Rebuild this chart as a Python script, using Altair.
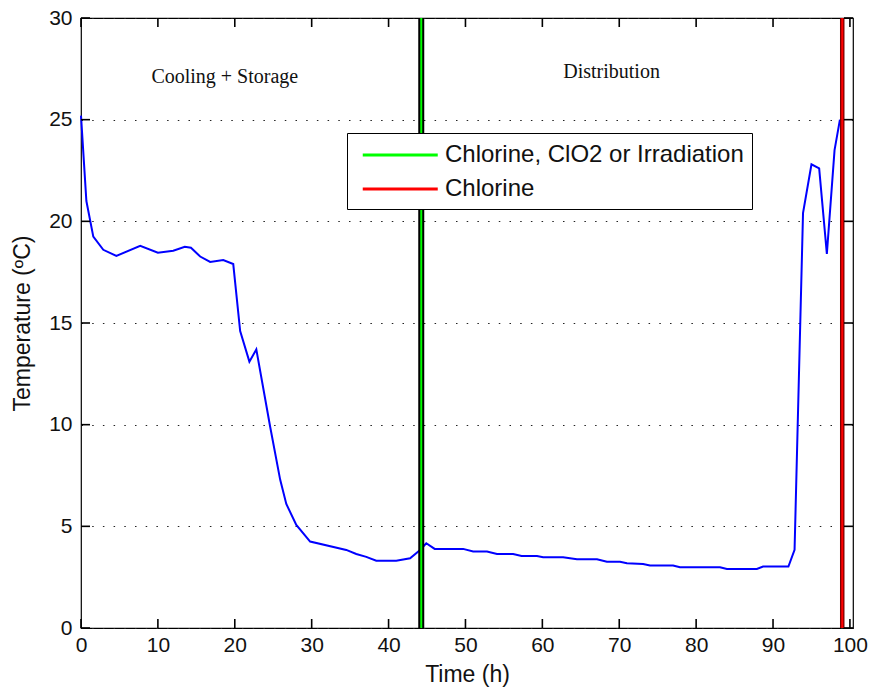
import altair as alt
import pandas as pd

# Temperature curve
time_h = [0, 0.7, 1.6, 2.9, 4.6, 7.7, 10.0, 12.0, 13.5, 14.3, 15.5, 16.8, 18.5, 19.8,
          20.7, 21.9, 22.8, 24.6, 25.9, 26.7, 28.0, 29.8, 34.5, 35.8, 37.1, 38.4, 41.0,
          42.8, 44.1, 44.9, 46.0, 49.7, 51.0, 52.8, 54.1, 56.2, 57.3, 59.3, 60.1, 62.7,
          64.5, 67.1, 68.4, 70.1, 71.0, 73.1, 74.0, 77.0, 77.9, 83.1, 84.0, 87.9, 88.7,
          92.0, 92.8, 93.9, 95.0, 96.0, 97.0, 98.0, 98.7]
temp_c = [25.2, 21.0, 19.25, 18.6, 18.3, 18.8, 18.46, 18.55, 18.75, 18.7, 18.27, 18.0,
          18.1, 17.9, 14.6, 13.1, 13.7, 9.9, 7.3, 6.1, 5.07, 4.25, 3.84, 3.64, 3.5, 3.31,
          3.31, 3.43, 3.84, 4.17, 3.89, 3.89, 3.76, 3.76, 3.64, 3.64, 3.54, 3.54, 3.48,
          3.48, 3.38, 3.38, 3.26, 3.26, 3.18, 3.15, 3.07, 3.07, 2.99, 2.99, 2.90, 2.90,
          3.02, 3.02, 3.84, 20.4, 22.8, 22.6, 18.4, 23.5, 25.0]

# Treatment markers
treat_names = ["Chlorine, ClO2 or Irradiation", "Chlorine"]
treat_times = [44.25, 99.0]
treat_colors = ["#00ff00", "#ff0000"]

# Annotations
note_texts = ["Cooling + Storage", "Distribution"]
note_t = [18.7, 69.0]
note_T = [27.1, 27.35]

x_ticks = [0, 10, 20, 30, 40, 50, 60, 70, 80, 90, 100]
y_ticks = [0, 5, 10, 15, 20, 25, 30]

W, H = 772, 610

curve = pd.DataFrame({"t": time_h, "T": temp_c})
treat = pd.DataFrame({"name": treat_names, "t": treat_times})
notes = pd.DataFrame({"text": note_texts, "t": note_t, "T": note_T})
xt = pd.DataFrame({"tx": x_ticks})
yt = pd.DataFrame({"ty": y_ticks})

xscale = alt.Scale(domain=[0, 100.4], nice=False, zero=False)
yscale = alt.Scale(domain=[0, 30], nice=False)

FONT = "Liberation Sans"

xaxis = alt.Axis(values=x_ticks, title="Time (h)", grid=False, ticks=False, tickSize=0,
                 domain=False, labelFont=FONT, labelFontSize=21, labelColor="#111",
                 labelPadding=6, titleFont=FONT, titleFontSize=23, titleFontWeight="normal",
                 titleColor="#111", titlePadding=8, labelFlush=False)
yaxis = alt.Axis(values=y_ticks, title="Temperature (ºC)", grid=True, gridColor="#222",
                 gridDash=[1.5, 9.2], gridWidth=1.2, ticks=False, tickSize=0, domain=False,
                 labelFont=FONT, labelFontSize=21, labelColor="#111", labelPadding=9,
                 titleFont=FONT, titleFontSize=23, titleFontWeight="normal",
                 titleColor="#111", titlePadding=14, labelFlush=False)

line = alt.Chart(curve).mark_line(color="#0000ff", strokeWidth=2).encode(
    x=alt.X("t:Q", scale=xscale, axis=xaxis),
    y=alt.Y("T:Q", scale=yscale, axis=yaxis),
)

# dark outlines of the two treatment lines
green_edge = alt.Chart(treat).transform_filter(
    alt.datum.name == treat_names[0]
).mark_rule(color="#000000", strokeWidth=6).encode(x=alt.X("t:Q", scale=xscale))
red_edge = alt.Chart(treat).transform_filter(
    alt.datum.name == treat_names[1]
).mark_rule(color="#7a0000", strokeWidth=4.5).encode(x=alt.X("t:Q", scale=xscale))

color_scale = alt.Scale(domain=treat_names, range=treat_colors)
legend = alt.Legend(
    title=None, orient="none", legendX=266, legendY=115,
    symbolType="M-0.5,0H5.5", symbolSize=625, symbolStrokeWidth=3,
    labelOffset=62, labelFont=FONT, labelFontSize=24, labelColor="#111", labelLimit=0,
    rowPadding=8, padding=8, strokeColor="#000", fillColor="#fff", cornerRadius=0,
)
color_rules = alt.Chart(treat).mark_rule(strokeWidth=2).encode(
    x=alt.X("t:Q", scale=xscale),
    color=alt.Color("name:N", scale=color_scale, legend=legend, sort=treat_names),
)

text = alt.Chart(notes).mark_text(font="Liberation Serif", fontSize=20, color="#111",
                                  align="center", baseline="middle").encode(
    x=alt.X("t:Q", scale=xscale), y=alt.Y("T:Q", scale=yscale), text="text:N")

# inward ticks on all four sides of the box
TK = dict(color="black", thickness=1.6, size=9, opacity=1)
bottom_ticks = alt.Chart(xt).mark_tick(orient="vertical", **TK).encode(
    x=alt.X("tx:Q", scale=xscale), y=alt.value(H - 4.5))
top_ticks = alt.Chart(xt).mark_tick(orient="vertical", **TK).encode(
    x=alt.X("tx:Q", scale=xscale), y=alt.value(4.5))
left_ticks = alt.Chart(yt).mark_tick(orient="horizontal", **TK).encode(
    y=alt.Y("ty:Q", scale=yscale), x=alt.value(4.5))
right_ticks = alt.Chart(yt).mark_tick(orient="horizontal", **TK).encode(
    y=alt.Y("ty:Q", scale=yscale), x=alt.value(W - 4.5))

chart = alt.layer(
    line, green_edge, red_edge, color_rules, text,
    bottom_ticks, top_ticks, left_ticks, right_ticks
).properties(
    width=W, height=H,
    autosize=alt.AutoSizeParams(type="none"),
    padding={"left": 81, "top": 18, "right": 21, "bottom": 67},
    background="white",
).configure_view(stroke="#000", strokeWidth=1.2)

chart.save("out.html", embed_options={"renderer": "svg", "actions": False})
